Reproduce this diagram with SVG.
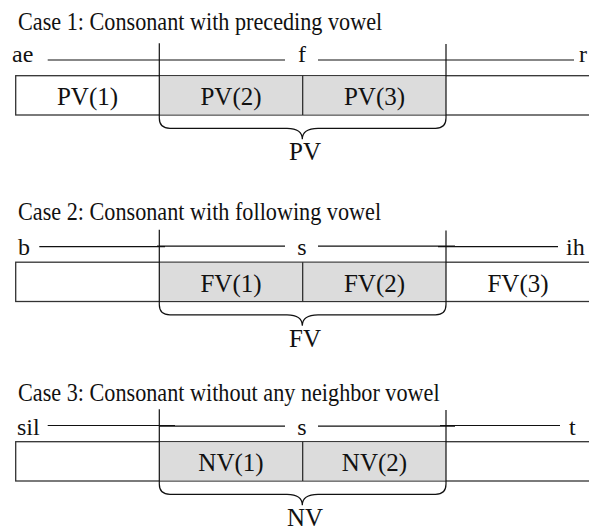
<svg xmlns="http://www.w3.org/2000/svg" width="589" height="529" viewBox="0 0 589 529">
  <style>
    text { font-family: "Liberation Serif", "Times New Roman", serif; fill: #111; }
    .title { font-size: 22.2px; }
    .ph { font-size: 24px; }
    .cell { font-size: 25px; text-anchor: middle; }
    .lbl { font-size: 25px; text-anchor: middle; }
    .tl { stroke: #111; stroke-width: 1.2; fill: none; }
    .box { stroke: #333; stroke-width: 1.3; fill: #fff; }
    .shade { fill: #dcdcdc; stroke: none; }
    .div { stroke: #222; stroke-width: 1.2; }
    .brace { stroke: #111; stroke-width: 1.2; fill: none; }
  </style>
  <defs>
    <!-- segment bar with shaded middle cells and the boundary brace -->
    <g id="bar">
      <rect class="box" x="15.7" y="75.7" width="575" height="39.3"/>
      <rect class="shade" x="159.3" y="76.3" width="286.7" height="38.1"/>
      <line class="div" x1="302.7" y1="75.7" x2="302.7" y2="115"/>
      <path class="brace" d="M159.3,43.3 V118 Q159.3,128.3 170,128.3 H287 C297,128.3 302.3,132 302.3,139.3 C302.3,132 308,128.3 318,128.3 H435.5 Q446,128.3 446,118 V44"/>
    </g>
  </defs>

  <!-- Case 1 -->
  <g id="case1">
    <text class="title" transform="translate(18,30) scale(1,1.1)">Case 1: Consonant with preceding vowel</text>
    <g id="case1-timeline">
      <text class="ph" x="12" y="62">ae</text>
      <line class="tl" x1="47.7" y1="60" x2="285" y2="60"/>
      <text class="ph" x="302" y="62" text-anchor="middle">f</text>
      <line class="tl" x1="318" y1="60" x2="574" y2="60"/>
      <text class="ph" x="579" y="62">r</text>
    </g>
    <g id="case1-bar">
      <use href="#bar"/>
      <text class="cell" x="87.5" y="105">PV(1)</text>
      <text class="cell" x="231" y="105">PV(2)</text>
      <text class="cell" x="374.5" y="105">PV(3)</text>
      <text class="lbl" x="305" y="160">PV</text>
    </g>
  </g>

  <!-- Case 2 -->
  <g id="case2">
    <text class="title" transform="translate(18,220) scale(1,1.1)">Case 2: Consonant with following vowel</text>
    <g id="case2-timeline">
      <text class="ph" x="18" y="255">b</text>
      <line class="tl" x1="39.3" y1="246.7" x2="165" y2="246.7"/>
      <line class="tl" x1="157" y1="246.2" x2="285" y2="246.2"/>
      <text class="ph" x="302" y="255" text-anchor="middle">s</text>
      <line class="tl" x1="318" y1="246.2" x2="455" y2="246.2"/>
      <line class="tl" x1="438" y1="246.7" x2="558" y2="246.7"/>
      <text class="ph" x="566" y="255">ih</text>
    </g>
    <g id="case2-bar" transform="translate(0,186.5)">
      <use href="#bar"/>
      <text class="cell" x="231" y="105">FV(1)</text>
      <text class="cell" x="374.5" y="105">FV(2)</text>
      <text class="cell" x="518" y="105">FV(3)</text>
      <text class="lbl" x="305" y="160">FV</text>
    </g>
  </g>

  <!-- Case 3 -->
  <g id="case3">
    <text class="title" transform="translate(18,401) scale(1,1.1)">Case 3: Consonant without any neighbor vowel</text>
    <g id="case3-timeline">
      <text class="ph" x="17" y="434.5">sil</text>
      <line class="tl" x1="47.7" y1="425.5" x2="175" y2="425.5"/>
      <line class="tl" x1="159" y1="426.1" x2="285" y2="426.1"/>
      <text class="ph" x="302" y="434.5" text-anchor="middle">s</text>
      <line class="tl" x1="318" y1="426.1" x2="455" y2="426.1"/>
      <line class="tl" x1="440" y1="425.5" x2="560" y2="425.5"/>
      <text class="ph" x="569" y="434.5">t</text>
    </g>
    <g id="case3-bar" transform="translate(0,366)">
      <use href="#bar"/>
      <text class="cell" x="231" y="105">NV(1)</text>
      <text class="cell" x="374.5" y="105">NV(2)</text>
      <text class="lbl" x="305" y="159.5">NV</text>
    </g>
  </g>
</svg>
